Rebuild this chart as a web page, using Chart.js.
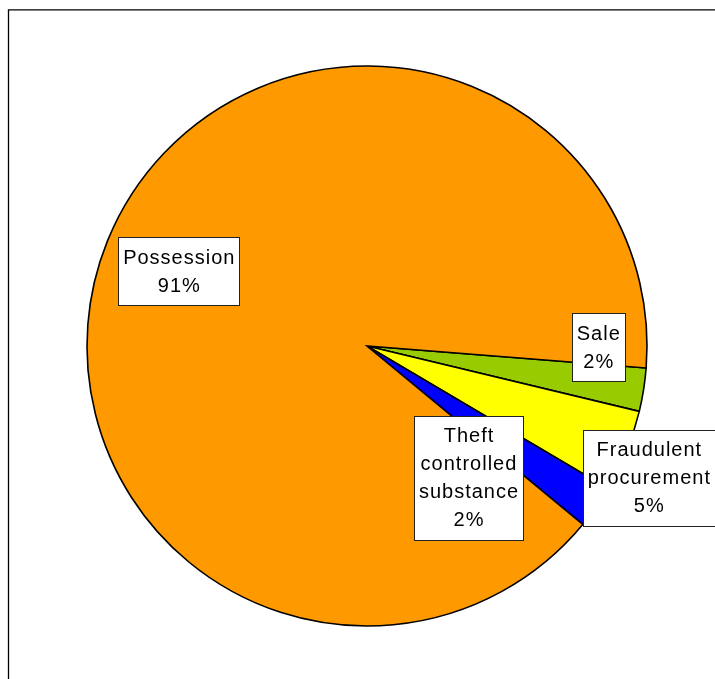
<!DOCTYPE html>
<html>
<head>
<meta charset="utf-8">
<script src="https://cdn.jsdelivr.net/npm/chart.js@4"></script>
<style>
  html, body { margin: 0; padding: 0; background: #fff; }
  #wrap { width: 715px; height: 679px; position: relative; }
</style>
</head>
<body>
<div id="wrap"><canvas id="c" width="715" height="679"></canvas></div>
<script>
// ---- data ----
const categories = [['Sale'], ['Fraudulent', 'procurement'], ['Theft', 'controlled', 'substance'], ['Possession']];
const values = [2.5, 4.75, 2.5, 90.25];
const percentLabels = ['2%', '5%', '2%', '91%'];
const colors = ['#99CC00', '#FFFF00', '#0000FF', '#FF9900'];

// label placement: angle (deg, clockwise from 3 o'clock) and distance as fraction of radius
const labelAngles = [0.3, 25.05, 52.4, 201.6];
const labelDist = [0.826, 1.111, 0.594, 0.723];

const framePlugin = {
  id: 'frame',
  beforeDraw(chart) {
    const ctx = chart.ctx;
    ctx.save();
    ctx.fillStyle = '#fff';
    ctx.fillRect(0, 0, chart.width, chart.height);
    ctx.strokeStyle = '#000';
    ctx.lineWidth = 1.3;
    ctx.beginPath();
    ctx.moveTo(8.5, chart.height + 5);
    ctx.lineTo(8.5, 9.8);
    ctx.lineTo(chart.width + 5, 9.8);
    ctx.stroke();
    ctx.restore();
  }
};

const labelPlugin = {
  id: 'boxLabels',
  afterDatasetsDraw(chart) {
    const ctx = chart.ctx;
    const arc = chart.getDatasetMeta(0).data[0];
    const cx = arc.x, cy = arc.y, r = arc.outerRadius;
    ctx.save();
    ctx.font = '20px "Liberation Sans", Arial, sans-serif';
    ctx.letterSpacing = '1px';
    ctx.textAlign = 'center';
    ctx.textBaseline = 'middle';
    const lineH = 28;
    categories.forEach((cat, i) => {
      const lines = cat.concat([percentLabels[i]]);
      const a = labelAngles[i] * Math.PI / 180;
      const x = cx + Math.cos(a) * r * labelDist[i];
      const y = cy + Math.sin(a) * r * labelDist[i];
      let w = 0;
      lines.forEach(l => { w = Math.max(w, ctx.measureText(l).width); });
      const bw = Math.round(w + 9);
      const bh = lines.length * lineH + 12;
      const bx = Math.round(x - bw / 2) + 0.5;
      const by = Math.round(y - bh / 2) + 0.5;
      ctx.fillStyle = '#fff';
      ctx.fillRect(bx, by, bw, bh);
      ctx.strokeStyle = '#222';
      ctx.lineWidth = 1;
      ctx.strokeRect(bx, by, bw, bh);
      ctx.fillStyle = '#000';
      lines.forEach((l, j) => {
        const ly = y + (j - (lines.length - 1) / 2) * lineH;
        ctx.fillText(l, x + 0.5, ly + 1);
      });
    });
    ctx.restore();
  }
};

new Chart(document.getElementById('c'), {
  type: 'pie',
  data: {
    labels: categories.map(c => c.join(' ')),
    datasets: [{
      data: values,
      backgroundColor: colors,
      borderColor: '#000',
      borderWidth: 1.6,
      borderJoinStyle: 'miter'
    }]
  },
  options: {
    responsive: false,
    animation: false,
    rotation: 94.5,
    radius: 280,
    layout: { padding: { left: 60, right: 41, top: 40, bottom: 27 } },
    plugins: {
      legend: { display: false },
      tooltip: { enabled: false }
    }
  },
  plugins: [framePlugin, labelPlugin]
});
</script>
</body>
</html>
